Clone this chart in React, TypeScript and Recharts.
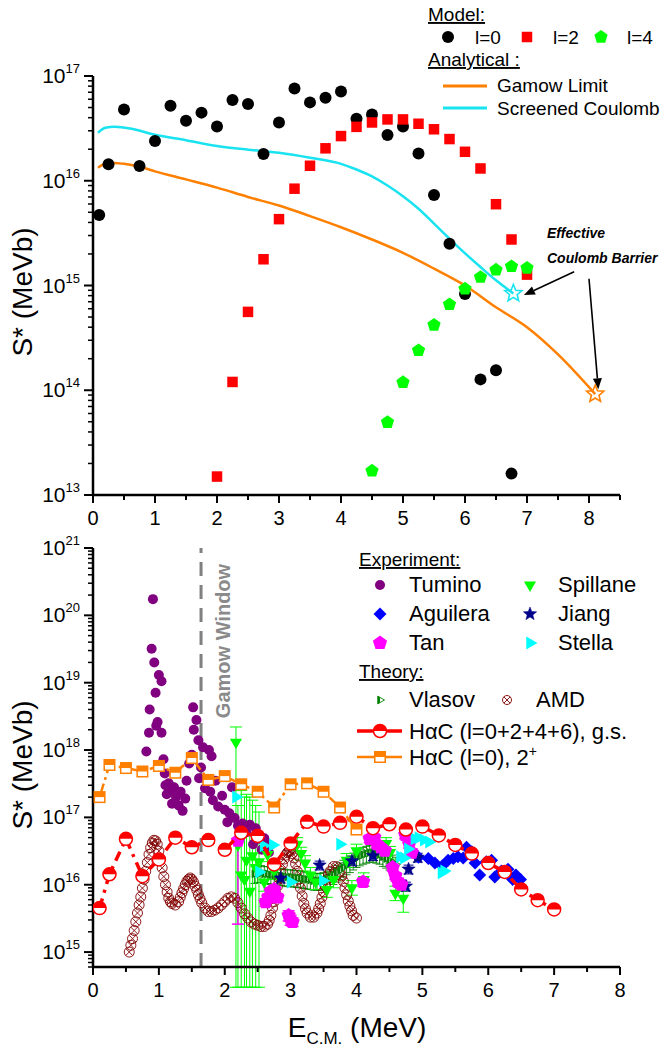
import React from 'react';
import { ScatterChart, Scatter, XAxis, YAxis, ErrorBar, ReferenceLine } from 'recharts';

const FONT = '"Liberation Sans", Arial, Helvetica, sans-serif';

// ---------- top panel: model S* (MeV b) vs E (MeV)
const l0Energy = [0.1, 0.25, 0.5, 0.75, 1, 1.25, 1.5, 1.75, 2, 2.25, 2.5, 2.75, 3, 3.25, 3.5, 3.75, 4, 4.25, 4.5, 4.75, 5, 5.25, 5.5, 5.75, 6, 6.25, 6.5, 6.75];
const l0S = [4.7e15, 1.44e16, 4.8e16, 1.38e16, 2.4e16, 5.2e16, 3.74e16, 4.47e16, 3.3e16, 5.9e16, 5.4e16, 1.8e16, 3.6e16, 7.6e16, 5.6e16, 6.2e16, 7.1e16, 3.9e16, 4.3e16, 2.73e16, 3.3e16, 1.82e16, 7.3e15, 2.5e15, 8.3e14, 1.27e14, 1.55e14, 1.6e13];

const l2Energy = [2, 2.25, 2.5, 2.75, 3, 3.25, 3.5, 3.75, 4, 4.25, 4.5, 4.75, 5, 5.25, 5.5, 5.75, 6, 6.25, 6.5, 6.75, 7];
const l2S = [1.5e13, 1.2e14, 5.6e14, 1.78e15, 4.3e15, 8.4e15, 1.39e16, 2.04e16, 2.67e16, 3.27e16, 3.6e16, 3.85e16, 3.85e16, 3.5e16, 3.1e16, 2.5e16, 1.89e16, 1.31e16, 5.97e15, 2.75e15, 1.27e15];

const l4Energy = [4.5, 4.75, 5, 5.25, 5.5, 5.75, 6, 6.25, 6.5, 6.75, 7];
const l4S = [1.7e13, 4.95e13, 1.19e14, 2.4e14, 4.2e14, 6.6e14, 9.3e14, 1.2e15, 1.41e15, 1.52e15, 1.47e15];

const gamowEnergy = [0.08, 0.2, 0.35, 0.5, 0.75, 1, 1.5, 2, 2.5, 3, 3.5, 4, 4.5, 5, 5.5, 6, 6.5, 7, 7.5, 8.1];
const gamowS = [1.33e16, 1.45e16, 1.48e16, 1.45e16, 1.36e16, 1.23e16, 1.03e16, 8.6e15, 7.0e15, 5.8e15, 4.6e15, 3.6e15, 2.75e15, 2.05e15, 1.45e15, 1.0e15, 6.2e14, 4.0e14, 2.2e14, 9.2e13];

const screenedEnergy = [0.08, 0.2, 0.35, 0.6, 1, 1.5, 2, 2.5, 3, 3.5, 4, 4.25, 4.5, 4.75, 5, 5.25, 5.5, 5.9, 6.25, 6.5, 6.78];
const screenedS = [2.87e16, 3.2e16, 3.27e16, 3.15e16, 2.75e16, 2.44e16, 2.15e16, 1.98e16, 1.85e16, 1.66e16, 1.45e16, 1.28e16, 1.1e16, 9.0e15, 7.1e15, 5.4e15, 3.9e15, 2.3e15, 1.5e15, 1.12e15, 8.4e14];

// effective Coulomb barrier: screened, Gamow
const barrierEnergy = [6.78, 8.1];
const barrierS = [8.4e14, 9.2e13];

// ---------- bottom panel
const tuminoE = [0.81, 0.85, 0.86, 0.89, 0.91, 0.93, 0.95, 0.96, 0.98, 1.0, 1.04, 1.04, 1.07, 1.09, 1.1, 1.12, 1.15, 1.18, 1.2, 1.23, 1.26, 1.3, 1.33, 1.36, 1.4, 1.42, 1.46, 1.5, 1.52, 1.53, 1.57, 1.6, 1.61, 1.64, 1.67, 1.7, 1.76, 1.8, 1.78, 1.82, 1.86, 1.9, 1.96, 2.0, 2.04, 2.07, 2.11, 2.15, 2.2, 2.27, 2.33, 2.38, 2.43, 2.47, 2.52, 2.56, 2.6, 2.63, 2.67];
const tuminoS = [9.5e17, 1.8e18, 4.0e18, 3.2e19, 1.74e20, 2.0e19, 7.1e18, 2.3e18, 2.6e18, 1.3e19, 1.05e19, 1.8e18, 7.3e17, 4.5e17, 3.0e17, 2.2e17, 3.2e17, 2.5e17, 1.6e17, 2.8e17, 2.0e17, 1.5e17, 2.4e17, 1.25e17, 1.9e17, 3.5e17, 6.3e17, 8.5e17, 4.3e18, 2.0e18, 2.8e18, 1.4e18, 3.8e17, 5.5e17, 1.1e18, 2.7e17, 1.0e18, 8.1e17, 2.4e17, 1.8e17, 3.5e17, 1.45e17, 2.1e17, 1.3e17, 8.5e16, 1.15e17, 2.8e17, 9.8e16, 7.5e16, 8.1e16, 6.0e16, 7.8e16, 4.0e16, 6.9e16, 4.8e16, 3.3e16, 4.9e16, 4.1e16, 3.0e16];

const spillaneE = [2.17, 2.2, 2.25, 2.3, 2.33, 2.38, 2.42, 2.47, 2.52, 2.6, 2.65, 2.75, 3.1, 3.16, 3.22, 3.3, 3.38, 3.55, 3.65, 3.85, 3.93, 4.0, 4.11, 4.45, 4.51, 4.59, 4.71];
const spillaneS = [1.3e18, 3.9e16, 1.4e16, 1.2e16, 2.3e16, 8e15, 2.7e16, 1.8e16, 2.2e16, 1.1e16, 2.8e16, 1.6e16, 4.0e16, 2.9e16, 2.1e16, 1.4e16, 1.1e16, 8.5e15, 1.2e16, 2.3e16, 9e15, 3.2e16, 1.2e16, 4.1e16, 3.0e16, 7.5e15, 6.3e15];
const spillaneLo = [3e14, 3e14, 3e14, 3e14, 3e14, 3e14, 3e14, 3e14, 3e14, 8e15, 2.2e16, 1.2e16, 3.2e16, 2.3e16, 1.6e16, 1.1e16, 8.5e15, 6.5e15, 9e15, 1.8e16, 7e15, 2.6e16, 9.5e15, 3.3e16, 2.4e16, 5.8e15, 3.9e15];
const spillaneHi = [2.2e18, 1.5e17, 2.5e17, 2e17, 2.2e17, 2e17, 1.8e17, 1.5e17, 1.2e17, 1.5e16, 3.5e16, 2.1e16, 5e16, 3.6e16, 2.7e16, 1.8e16, 1.4e16, 1.1e16, 1.5e16, 2.9e16, 1.15e16, 4e16, 1.5e16, 5e16, 3.7e16, 9.5e15, 8e15];

const aguileraE = [4.94, 5.09, 5.19, 5.3, 5.39, 5.47, 5.54, 5.62, 5.67, 5.75, 5.8, 5.87, 5.97, 6.05, 6.1, 6.2, 6.27, 6.3, 6.37, 6.42, 6.49];
const aguileraS = [2.55e16, 2.45e16, 2.1e16, 1.9e16, 2.3e16, 2.45e16, 2.6e16, 2.5e16, 3.6e16, 3.1e16, 2.1e16, 1.4e16, 2.2e16, 2.3e16, 1.3e16, 1.6e16, 1.5e16, 1.7e16, 1.2e16, 1.4e16, 1.2e16];

const jiangE = [2.85, 3.44, 3.93, 4.25, 4.75, 4.79, 4.93];
const jiangS = [1.25e16, 1.95e16, 2.25e16, 2.7e16, 9.5e15, 1.7e16, 2.55e16];

const tanE = [2.2, 2.62, 2.66, 2.7, 2.75, 2.8, 2.97, 3.0, 3.03, 4.1, 4.2, 4.27, 4.31, 4.37, 4.43, 4.55, 4.59, 4.63, 4.68, 4.74, 4.8, 4.84];
const tanS = [4.5e16, 5.5e15, 6.5e15, 8e15, 8.5e15, 6.5e15, 3.5e15, 3.0e15, 2.8e15, 1.1e16, 4.8e16, 5e16, 4e16, 3.6e16, 3.2e16, 1.8e16, 1.35e16, 1.1e16, 1.0e16, 5.5e16, 4e16, 3e16];
const tanLo = [2.6e15, 4.8e15, 5.7e15, 7e15, 7.5e15, 5.7e15, 2.9e15, 2.5e15, 2.4e15, 9.5e15, 4.2e16, 4.4e16, 3.5e16, 3.2e16, 2.8e16, 1.6e16, 1.2e16, 9.6e15, 8.8e15, 4.8e16, 3.5e16, 2.6e16];
const tanHi = [4.5e16, 6.2e15, 7.3e15, 9e15, 9.5e15, 7.3e15, 4.1e15, 3.5e15, 3.2e15, 1.25e16, 5.4e16, 5.6e16, 4.5e16, 4e16, 3.6e16, 2e16, 1.5e16, 1.25e16, 1.15e16, 6.2e16, 4.5e16, 3.4e16];

const stellaE = [2.17, 2.52, 2.59, 2.73, 3.0, 3.49, 3.75, 4.66, 4.72, 4.78, 4.88, 4.94, 5.02, 5.1, 5.29, 5.33];
const stellaS = [2.0e17, 1.55e16, 3.8e16, 3.9e16, 1.1e16, 1.15e16, 4.0e16, 2.6e16, 2.5e16, 3.4e16, 4.8e16, 5.0e16, 4.6e16, 4.3e16, 1.5e16, 1.6e16];

const vlasovE = [2.45, 2.5, 2.55, 2.6, 2.65, 2.7, 2.75, 2.8, 2.85, 2.9, 2.95, 3.0, 3.05, 3.1, 3.15, 3.2, 3.25, 3.3, 3.35, 3.4, 3.45, 3.5, 3.55, 3.6, 3.65, 3.7, 3.75, 3.8, 3.85, 3.9, 3.95, 4.0, 4.05, 4.1, 4.15, 4.2, 4.25, 4.3, 4.35, 4.4, 4.45, 4.5, 4.55, 4.6];
const vlasovS = [1.45e16, 1.5e16, 1.5e16, 1.45e16, 1.45e16, 1.4e16, 1.4e16, 1.38e16, 1.35e16, 1.33e16, 1.3e16, 1.3e16, 1.28e16, 1.26e16, 1.25e16, 1.22e16, 1.2e16, 1.18e16, 1.15e16, 1.15e16, 1.15e16, 1.18e16, 1.22e16, 1.3e16, 1.4e16, 1.52e16, 1.65e16, 1.8e16, 1.95e16, 2.1e16, 2.3e16, 2.5e16, 2.65e16, 2.8e16, 2.9e16, 3.0e16, 3.0e16, 2.9e16, 2.8e16, 2.6e16, 2.45e16, 2.3e16, 2.15e16, 2.0e16];
const vlasovRelErr = 0.28;

const amdE = [0.55, 0.575, 0.6, 0.625, 0.65, 0.675, 0.7, 0.725, 0.75, 0.775, 0.8, 0.825, 0.85, 0.875, 0.9, 0.925, 0.95, 0.975, 1.0, 1.025, 1.05, 1.075, 1.1, 1.125, 1.15, 1.175, 1.2, 1.25, 1.3, 1.325, 1.35, 1.375, 1.4, 1.425, 1.45, 1.475, 1.5, 1.525, 1.55, 1.575, 1.6, 1.625, 1.65, 1.7, 1.75, 1.8, 1.85, 1.9, 1.95, 2.0, 2.05, 2.1, 2.15, 2.2, 2.25, 2.3, 2.35, 2.4, 2.45, 2.5, 2.55, 2.6, 2.65, 2.675, 2.7, 2.725, 2.75, 2.775, 2.8, 2.825, 2.85, 2.875, 2.9, 2.925, 2.95, 2.975, 3.0, 3.025, 3.05, 3.075, 3.1, 3.125, 3.15, 3.175, 3.2, 3.225, 3.25, 3.3, 3.35, 3.4, 3.425, 3.45, 3.475, 3.5, 3.525, 3.55, 3.575, 3.6, 3.65, 3.7, 3.75, 3.775, 3.8, 3.825, 3.85, 3.875, 3.9, 3.925, 3.95, 4.0];
const amdS = [1.0e15, 1.26e15, 1.58e15, 2.09e15, 2.82e15, 3.8e15, 5.0e15, 6.6e15, 8.9e15, 1.2e16, 1.58e16, 2.14e16, 2.82e16, 3.55e16, 4.17e16, 4.57e16, 4.47e16, 3.98e16, 3.16e16, 2.4e16, 1.78e16, 1.32e16, 1.0e16, 7.8e15, 6.3e15, 5.6e15, 5.25e15, 5.0e15, 5.6e15, 6.5e15, 7.6e15, 8.7e15, 1.0e16, 1.12e16, 1.2e16, 1.26e16, 1.2e16, 1.1e16, 9.5e15, 8.3e15, 7.1e15, 6.2e15, 5.4e15, 4.5e15, 4.0e15, 4.0e15, 4.2e15, 4.5e15, 5.0e15, 5.6e15, 6.3e15, 6.6e15, 6.3e15, 5.4e15, 4.5e15, 3.7e15, 3.2e15, 2.8e15, 2.6e15, 2.5e15, 2.4e15, 2.4e15, 2.6e15, 2.95e15, 3.5e15, 4.5e15, 5.6e15, 7.4e15, 9.5e15, 1.26e16, 1.58e16, 2.0e16, 2.4e16, 2.75e16, 3.0e16, 3.16e16, 3.16e16, 2.9e16, 2.5e16, 2.04e16, 1.58e16, 1.2e16, 8.9e15, 6.8e15, 5.25e15, 4.4e15, 3.8e15, 3.3e15, 3.3e15, 3.8e15, 4.4e15, 5.25e15, 6.5e15, 7.9e15, 9.8e15, 1.2e16, 1.41e16, 1.58e16, 1.86e16, 1.86e16, 1.58e16, 1.35e16, 1.12e16, 8.9e15, 7.1e15, 5.75e15, 4.8e15, 4.1e15, 3.5e15, 3.2e15];

const hacE = [0.1, 0.25, 0.5, 0.75, 1, 1.25, 1.5, 1.75, 2, 2.25, 2.5, 2.75, 3, 3.25, 3.5, 3.75, 4, 4.25, 4.5, 4.75, 5, 5.25, 5.5, 5.75, 6, 6.25, 6.5, 6.75, 7];
const hacS = [4.5e15, 1.43e16, 4.8e16, 1.34e16, 2.37e16, 5.0e16, 3.6e16, 4.6e16, 3.3e16, 5.9e16, 5.3e16, 2.0e16, 4.1e16, 8.6e16, 7.3e16, 8.3e16, 1.02e17, 6.9e16, 7.9e16, 6.6e16, 7.3e16, 5.4e16, 3.9e16, 2.9e16, 2.1e16, 1.55e16, 8.5e15, 5.9e15, 4.3e15];

const hac2E = [0.1, 0.25, 0.5, 0.75, 1, 1.25, 1.5, 1.75, 2, 2.25, 2.5, 2.75, 3, 3.25, 3.5, 3.75, 4];
const hac2S = [2.0e17, 6.0e17, 5.4e17, 4.8e17, 5.8e17, 4.6e17, 7.6e17, 3.6e17, 4.1e17, 3.1e17, 2.4e17, 1.4e17, 3.1e17, 3.2e17, 2.4e17, 1.4e17, 6.6e16];

const gamowWindow = 1.64;

const topXTicks = [0, 0.5, 1, 1.5, 2, 2.5, 3, 3.5, 4, 4.5, 5, 5.5, 6, 6.5, 7, 7.5, 8, 8.5];
const bottomXTicks = [0, 0.5, 1, 1.5, 2, 2.5, 3, 3.5, 4, 4.5, 5, 5.5, 6, 6.5, 7, 7.5, 8];

const logTicks = (from: number, to: number) => {
  const t: number[] = [];
  for (let d = from; d < to; d++) for (let m = 1; m < 10; m++) t.push(m * Math.pow(10, d));
  t.push(Math.pow(10, to));
  return t;
};
const topYTicks = logTicks(13, 17);
const bottomYTicks = [6e14, 7e14, 8e14, 9e14, ...logTicks(15, 21)];

const pts = (xs: number[], ys: number[]) => xs.map((x, i) => ({ x, y: ys[i] }));
const withErr = (xs: number[], ys: number[], lo: number[], hi: number[]) =>
  xs.map((x, i) => ({ x, y: ys[i], err: [ys[i] - lo[i], hi[i] - ys[i]] }));

// ---------- marker shapes
const poly = (cx: number, cy: number, r: number, n: number, rot: number) =>
  Array.from({ length: n }, (_, i) => {
    const a = rot + (i * 2 * Math.PI) / n;
    return `${cx + r * Math.cos(a)},${cy + r * Math.sin(a)}`;
  }).join(' ');
const starPts = (cx: number, cy: number, R: number, r: number) =>
  Array.from({ length: 10 }, (_, i) => {
    const a = -Math.PI / 2 + (i * Math.PI) / 5;
    const rr = i % 2 ? r : R;
    return `${cx + rr * Math.cos(a)},${cy + rr * Math.sin(a)}`;
  }).join(' ');

const dot = (color: string, r: number) => (cx: number, cy: number) => <circle cx={cx} cy={cy} r={r} fill={color} />;
const square = (color: string, s: number) => (cx: number, cy: number) => <rect x={cx - s / 2} y={cy - s / 2} width={s} height={s} fill={color} />;
const polygon = (color: string, r: number, n: number, rot: number) => (cx: number, cy: number) => <polygon points={poly(cx, cy, r, n, rot)} fill={color} />;
const star = (color: string, R: number, r: number, hollow = false) => (cx: number, cy: number) => (
  <polygon points={starPts(cx, cy, R, r)} fill={hollow ? 'none' : color} stroke={color} strokeWidth={hollow ? 1.6 : 0.5} />
);
const halfCircle = (color: string, r: number) => (cx: number, cy: number) => (
  <g>
    <circle cx={cx} cy={cy} r={r} fill="#fff" stroke={color} strokeWidth={1.5} />
    <path d={`M${cx - r},${cy} A${r},${r} 0 0 1 ${cx + r},${cy} Z`} fill={color} />
  </g>
);
const halfSquare = (color: string, s: number) => (cx: number, cy: number) => (
  <g>
    <rect x={cx - s / 2} y={cy - s / 2} width={s} height={s} fill="#fff" stroke={color} strokeWidth={1.5} />
    <rect x={cx - s / 2} y={cy - s / 2} width={s} height={s / 2} fill={color} />
  </g>
);
const crossCircle = (color: string, r: number) => (cx: number, cy: number) => {
  const d = r * 0.7;
  return (
    <g fill="none" stroke={color} strokeWidth={0.9}>
      <circle cx={cx} cy={cy} r={r} />
      <line x1={cx - d} y1={cy - d} x2={cx + d} y2={cy + d} />
      <line x1={cx - d} y1={cy + d} x2={cx + d} y2={cy - d} />
    </g>
  );
};
const openTriangleRight = (color: string, r: number) => (cx: number, cy: number) => (
  <g>
    <polygon points={poly(cx, cy, r, 3, 0)} fill="#fff" stroke={color} strokeWidth={0.9} />
    <polygon points={`${cx - r / 2},${cy - r * 0.866} ${cx},${cy - r * 0.58} ${cx},${cy + r * 0.58} ${cx - r / 2},${cy + r * 0.866}`} fill={color} />
  </g>
);

const M = {
  l0: dot('#000', 6),
  l2: square('#ff0000', 10.5),
  l4: polygon('#00ff00', 7, 5, -Math.PI / 2),
  tumino: dot('#800080', 5),
  spillane: polygon('#00ff00', 7, 3, Math.PI / 2),
  aguilera: polygon('#0000ff', 6.5, 4, -Math.PI / 2),
  jiang: star('#00008b', 7, 3),
  tan: polygon('#ff00ff', 7.5, 5, -Math.PI / 2),
  stella: polygon('#00ffff', 7.5, 3, 0),
  vlasov: openTriangleRight('#008000', 4.5),
  amd: crossCircle('#800000', 5),
  hac: halfCircle('#ff0000', 6.5),
  hac2: halfSquare('#ff8000', 10.5),
};

const shape = (f: (cx: number, cy: number) => React.ReactElement) => (p: any) => f(p.cx, p.cy);
const noDot = () => <g />;

// ---------- ticks
const XTick = (props: any) => {
  const { x, y, payload } = props;
  const v = payload.value;
  const major = Number.isInteger(v);
  return (
    <g>
      <line x1={x} x2={x} y1={y} y2={y + (major ? 8 : 5)} stroke="#000" strokeWidth={2} />
      {major && (
        <text x={x} y={y + 30} textAnchor="middle" fontSize={20} fontFamily={FONT} fill="#000">
          {v}
        </text>
      )}
    </g>
  );
};

const YTick = (props: any) => {
  const { x, y, payload } = props;
  const lg = Math.log10(payload.value);
  const major = Math.abs(lg - Math.round(lg)) < 1e-6;
  return (
    <g>
      <line x1={x - (major ? 9 : 5)} x2={x} y1={y} y2={y} stroke="#000" strokeWidth={major ? 2 : 1.5} />
      {major && (
        <text x={x - 13} y={y + 7} textAnchor="end" fontSize={21} fontFamily={FONT} fill="#000">
          10<tspan fontSize={13} dy={-10}>{Math.round(lg)}</tspan>
        </text>
      )}
    </g>
  );
};

const Arrow = (p: any) => {
  const { x1, y1, x2, y2 } = p;
  const a = Math.atan2(y2 - y1, x2 - x1);
  const L = 11, W = 4.5;
  const bx = x2 - L * Math.cos(a), by = y2 - L * Math.sin(a);
  const head = `${x2},${y2} ${bx + W * Math.sin(a)},${by - W * Math.cos(a)} ${bx - W * Math.sin(a)},${by + W * Math.cos(a)}`;
  return (
    <g>
      <line x1={x1} y1={y1} x2={bx} y2={by} stroke="#000" strokeWidth={1.6} />
      <polygon points={head} fill="#000" />
    </g>
  );
};

const axisLine = { stroke: '#000', strokeWidth: 2.5 };

const TopChart = () => (
  <ScatterChart width={666} height={530} margin={{ top: 76, right: 46, bottom: 0, left: 0 }}>
    <XAxis type="number" dataKey="x" domain={[0, 8.5]} ticks={topXTicks} interval={0} allowDataOverflow
      axisLine={axisLine} tickLine={false} tickSize={0} tickMargin={0} tick={<XTick />} height={35} />
    <YAxis type="number" dataKey="y" scale="log" domain={[1e13, 1e17]} ticks={topYTicks} interval={0} allowDataOverflow
      axisLine={axisLine} tickLine={false} tickSize={0} tickMargin={0} tick={<YTick />} width={93} />
    <Scatter data={pts(gamowEnergy, gamowS)} line={{ stroke: '#ff8000', strokeWidth: 2.5 }} lineJointType="monotoneX" shape={noDot} isAnimationActive={false} />
    <Scatter data={pts(screenedEnergy, screenedS)} line={{ stroke: '#19e3f0', strokeWidth: 2.5 }} lineJointType="monotoneX" shape={noDot} isAnimationActive={false} />
    <Scatter data={pts(l0Energy, l0S)} shape={shape(M.l0)} isAnimationActive={false} />
    <Scatter data={pts(l2Energy, l2S)} shape={shape(M.l2)} isAnimationActive={false} />
    <Scatter data={pts(l4Energy, l4S)} shape={shape(M.l4)} isAnimationActive={false} />
    <Scatter data={pts(barrierEnergy.slice(0, 1), barrierS.slice(0, 1))} shape={shape(star('#19e3f0', 9, 4, true))} isAnimationActive={false} />
    <Scatter data={pts(barrierEnergy.slice(1), barrierS.slice(1))} shape={shape(star('#ff8000', 9, 4, true))} isAnimationActive={false} />
    <ReferenceLine segment={[{ x: 7.76, y: 1.35e15 }, { x: 6.95, y: 8.1e14 }]} shape={Arrow} ifOverflow="visible" />
    <ReferenceLine segment={[{ x: 8.0, y: 1.16e15 }, { x: 8.15, y: 1.02e14 }]} shape={Arrow} ifOverflow="visible" />
  </ScatterChart>
);

const BottomChart = () => (
  <ScatterChart width={666} height={518} margin={{ top: 18, right: 46, bottom: 0, left: 0 }}>
    <XAxis type="number" dataKey="x" domain={[0, 8]} ticks={bottomXTicks} interval={0} allowDataOverflow
      axisLine={axisLine} tickLine={false} tickSize={0} tickMargin={0} tick={<XTick />} height={81} />
    <YAxis type="number" dataKey="y" scale="log" domain={[6e14, 1e21]} ticks={bottomYTicks} interval={0} allowDataOverflow
      axisLine={axisLine} tickLine={false} tickSize={0} tickMargin={0} tick={<YTick />} width={93} />
    <ReferenceLine x={gamowWindow} stroke="#808080" strokeWidth={3} strokeDasharray="14 9" />
    <Scatter data={pts(amdE, amdS)} shape={shape(M.amd)} isAnimationActive={false} />
    <Scatter data={vlasovE.map((x, i) => ({ x, y: vlasovS[i], err: vlasovS[i] * vlasovRelErr }))} shape={shape(M.vlasov)} isAnimationActive={false}>
      <ErrorBar dataKey="err" direction="y" stroke="#008000" strokeWidth={0.9} width={4} />
    </Scatter>
    <Scatter data={pts(tuminoE, tuminoS)} shape={shape(M.tumino)} isAnimationActive={false} />
    <Scatter data={withErr(spillaneE, spillaneS, spillaneLo, spillaneHi)} shape={shape(M.spillane)} isAnimationActive={false}>
      <ErrorBar dataKey="err" direction="y" stroke="#00ff00" strokeWidth={1} width={6} />
    </Scatter>
    <Scatter data={pts(aguileraE, aguileraS)} shape={shape(M.aguilera)} isAnimationActive={false} />
    <Scatter data={jiangE.map((x, i) => ({ x, y: jiangS[i], err: jiangS[i] * 0.15 }))} shape={shape(M.jiang)} isAnimationActive={false}>
      <ErrorBar dataKey="err" direction="y" stroke="#00008b" strokeWidth={1} width={5} />
    </Scatter>
    <Scatter data={withErr(tanE, tanS, tanLo, tanHi)} shape={shape(M.tan)} isAnimationActive={false}>
      <ErrorBar dataKey="err" direction="y" stroke="#ff00ff" strokeWidth={1.5} width={6} />
    </Scatter>
    <Scatter data={pts(stellaE, stellaS)} shape={shape(M.stella)} isAnimationActive={false} />
    <Scatter data={pts(hacE, hacS)} line={{ stroke: '#ff0000', strokeWidth: 3.5, strokeDasharray: '10 6 3 6' }} shape={shape(M.hac)} isAnimationActive={false} />
    <Scatter data={pts(hac2E, hac2S)} line={{ stroke: '#ff8000', strokeWidth: 2.5, strokeDasharray: '14 4 3 4' }} shape={shape(M.hac2)} isAnimationActive={false} />
  </ScatterChart>
);

const T = (p: any) => <text fontFamily={FONT} fill="#000" {...p} />;

const Overlay = () => (
  <svg width={666} height={1048} style={{ position: 'absolute', left: 0, top: 0, pointerEvents: 'none' }}>
    {/* top legend */}
    <T x={428} y={21} fontSize={19} textDecoration="underline">Model:</T>
    {M.l0(448, 37)}
    <T x={475} y={44} fontSize={19}>l=0</T>
    {M.l2(527, 37)}
    <T x={553} y={44} fontSize={19}>l=2</T>
    {M.l4(601, 37)}
    <T x={627} y={44} fontSize={19}>l=4</T>
    <T x={428} y={66} fontSize={19} textDecoration="underline">Analytical :</T>
    <line x1={443} x2={487} y1={86} y2={86} stroke="#ff8000" strokeWidth={3} />
    <T x={497} y={92} fontSize={19}>Gamow Limit</T>
    <line x1={443} x2={487} y1={108} y2={108} stroke="#19e3f0" strokeWidth={3} />
    <T x={497} y={115} fontSize={19}>Screened Coulomb</T>
    <T x={547} y={238} fontSize={14} fontWeight="bold" fontStyle="italic">Effective</T>
    <T x={547} y={263} fontSize={14} fontWeight="bold" fontStyle="italic">Coulomb Barrier</T>

    {/* axis titles */}
    <T x={32} y={292} fontSize={28} textAnchor="middle" transform="rotate(-90 32 292)">S* (MeVb)</T>
    <T x={32} y={765} fontSize={28} textAnchor="middle" transform="rotate(-90 32 765)">S* (MeVb)</T>
    <T x={357} y={1037} fontSize={28} textAnchor="middle">
      E<tspan fontSize={17} dy={7}>C.M.</tspan><tspan dy={-7}> (MeV)</tspan>
    </T>
    <T x={230} y={641} fontSize={20} fontWeight="bold" textAnchor="middle" fill="#8a8a8a" transform="rotate(-90 230 641)">Gamow Window</T>

    {/* bottom legend */}
    <T x={359} y={566} fontSize={19} textDecoration="underline">Experiment:</T>
    {M.tumino(380, 585)}
    <T x={409} y={592} fontSize={22}>Tumino</T>
    {M.spillane(530, 585)}
    <T x={558} y={592} fontSize={22}>Spillane</T>
    {M.aguilera(380, 614)}
    <T x={409} y={621} fontSize={22}>Aguilera</T>
    {M.jiang(530, 614)}
    <T x={558} y={621} fontSize={22}>Jiang</T>
    {M.tan(380, 643)}
    <T x={409} y={650} fontSize={22}>Tan</T>
    {M.stella(530, 643)}
    <T x={558} y={650} fontSize={22}>Stella</T>
    <T x={359} y={678} fontSize={19} textDecoration="underline">Theory:</T>
    {M.vlasov(380, 700)}
    <T x={409} y={707} fontSize={22}>Vlasov</T>
    {crossCircle('#800000', 4.5)(507, 700)}
    <T x={536} y={707} fontSize={22}>AMD</T>
    <line x1={357} x2={402} y1={731} y2={731} stroke="#ff0000" strokeWidth={3.5} />
    {M.hac(380, 731)}
    <T x={409} y={739} fontSize={22}>HαC (l=0+2+4+6), g.s.</T>
    <line x1={357} x2={402} y1={757} y2={757} stroke="#ff8000" strokeWidth={2.5} />
    {M.hac2(380, 757)}
    <T x={409} y={765} fontSize={22}>
      HαC (l=0), 2<tspan fontSize={14} dy={-9}>+</tspan>
    </T>
  </svg>
);

export default function App() {
  return (
    <div style={{ position: 'absolute', left: 0, top: 0, width: 666, height: 1048, background: '#fff', fontFamily: FONT }}>
      <div style={{ position: 'absolute', left: 0, top: 0 }}>
        <TopChart />
      </div>
      <div style={{ position: 'absolute', left: 0, top: 530 }}>
        <BottomChart />
      </div>
      <Overlay />
    </div>
  );
}
